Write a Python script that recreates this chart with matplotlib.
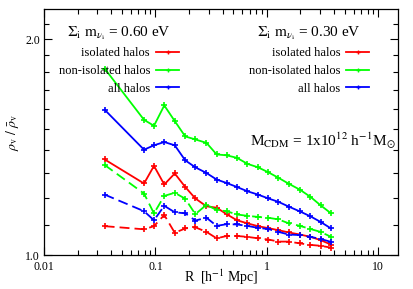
import matplotlib
matplotlib.use("Agg")
import matplotlib.pyplot as plt
from matplotlib.lines import Line2D
from matplotlib.ticker import FixedLocator, NullFormatter, FixedFormatter

plt.rcParams['font.family'] = ['Liberation Serif', 'DejaVu Serif']
plt.rcParams['mathtext.fontset'] = 'stix'

R = [0.035, 0.079, 0.097, 0.12, 0.149, 0.185, 0.228, 0.287, 0.354, 0.435,
     0.538, 0.668, 0.831, 1.03, 1.27, 1.57, 1.98, 2.46, 3.03, 3.76]

# Sum m_nu = 0.60 eV (solid)
iso_060 = [1.359, 1.258, 1.331, 1.254, 1.299, 1.244, 1.199, 1.169, 1.164, 1.140,
           1.118, 1.107, 1.097, 1.090, 1.083, 1.075, 1.068, 1.060, 1.049, 1.034]
noniso_060 = [1.819, 1.543, 1.514, 1.616, 1.537, 1.463, 1.449, 1.433, 1.381, 1.377,
              1.366, 1.340, 1.325, 1.304, 1.281, 1.257, 1.233, 1.205, 1.173, 1.143]
all_060 = [1.594, 1.402, 1.422, 1.437, 1.422, 1.355, 1.325, 1.301, 1.274, 1.260,
           1.244, 1.227, 1.214, 1.199, 1.186, 1.168, 1.150, 1.132, 1.112, 1.089]

# Sum m_nu = 0.30 eV (dashed)
iso_030 = [1.097, 1.086, 1.097, 1.137, 1.074, 1.089, 1.093, 1.077, 1.055, 1.063,
           1.063, 1.060, 1.055, 1.051, 1.044, 1.044, 1.038, 1.033, 1.030, 1.024]
noniso_030 = [1.335, 1.218, 1.143, 1.209, 1.221, 1.198, 1.140, 1.175, 1.155, 1.151,
              1.139, 1.134, 1.130, 1.127, 1.121, 1.107, 1.098, 1.087, 1.077, 1.060]
all_030 = [1.214, 1.151, 1.118, 1.171, 1.147, 1.143, 1.117, 1.127, 1.098, 1.104,
           1.103, 1.098, 1.091, 1.087, 1.077, 1.068, 1.066, 1.060, 1.053, 1.043]

labels = ['isolated halos', 'non-isolated halos', 'all halos']
colors = ['#ff0000', '#00ff00', '#0000ff']

xticks = [0.01, 0.1, 1, 10]
xticklabels = ['0.01', '0.1', '1', '10']
yticks = [1.0, 2.0]
yticklabels = ['1.0', '2.0']

fig = plt.figure(figsize=(4.13, 2.89), dpi=100)
ax = fig.add_axes([0.1065, 0.1176, 0.8572, 0.8502])

lw = 1.3
ms = 4
dash = (5.5, 2.8)
for ys, c in zip([iso_060, noniso_060, all_060], colors):
    ax.plot(R, ys, color=c, lw=lw, marker='+', ms=ms, mew=1.2)
for ys, c in zip([iso_030, noniso_030, all_030], colors):
    ax.plot(R, ys, color=c, lw=lw, marker='+', ms=ms, mew=1.2, dashes=dash)

ax.set_xscale('log')
ax.set_yscale('log')
ax.set_xlim(0.01, 15)
ax.set_ylim(1.0, 2.2)

ax.xaxis.set_major_locator(FixedLocator(xticks))
ax.xaxis.set_major_formatter(FixedFormatter(xticklabels))
xminor = [m * 10.0**e for e in (-2, -1, 0, 1) for m in range(2, 10) if m * 10.0**e <= 15]
ax.xaxis.set_minor_locator(FixedLocator(xminor))
ax.xaxis.set_minor_formatter(NullFormatter())

ax.yaxis.set_major_locator(FixedLocator(yticks))
ax.yaxis.set_major_formatter(FixedFormatter(yticklabels))
ax.yaxis.set_minor_locator(FixedLocator([1.1, 1.2, 1.3, 1.4, 1.5, 1.6, 1.7, 1.8, 1.9, 2.1]))
ax.yaxis.set_minor_formatter(NullFormatter())

ax.tick_params(which='both', direction='in', top=True, right=True, labelsize=8.5)
ax.tick_params(which='major', length=6, width=0.8)
ax.tick_params(which='minor', length=3.5, width=0.8)
ax.tick_params(axis='x', which='major', pad=4)
ax.tick_params(axis='y', which='major', pad=3)
for s in ax.spines.values():
    s.set_linewidth(0.9)

ax.set_xlabel(r'R  [h$^{\mathrm{-1}}$ Mpc]', fontsize=10, labelpad=-3.5)
ax.set_ylabel(r'$\rho_{\mathrm{v}}\ /\ \bar{\rho}_{\mathrm{v}}$', fontsize=10, labelpad=3)

handles = [Line2D([], [], color=c, lw=lw, marker='+', ms=3, mew=1) for c in colors]

leg_kw = dict(loc='upper right', frameon=False, markerfirst=False, fontsize=9,
              handlelength=1.8, handletextpad=0.5, labelspacing=0.45,
              borderaxespad=0, title_fontsize=11)
leg1 = ax.legend(handles, labels, bbox_to_anchor=(0.395, 0.96),
                 title=r'$\Sigma_{\mathrm{i}}\ \mathrm{m}_{\nu_{\mathrm{i}}}$ = 0.60 eV',
                 **leg_kw)
ax.add_artist(leg1)
leg2 = ax.legend(handles, labels, bbox_to_anchor=(0.932, 0.96),
                 title=r'$\Sigma_{\mathrm{i}}\ \mathrm{m}_{\nu_{\mathrm{i}}}$ = 0.30 eV',
                 **leg_kw)

ax.text(0.582, 0.467, r'M$_{\mathrm{CDM}}$ = 1x10$^{12}$ h$^{\mathrm{-1}}$M$_{\odot}$',
        transform=ax.transAxes, fontsize=11, ha='left', va='center')

fig.savefig('out.png', dpi=100)
